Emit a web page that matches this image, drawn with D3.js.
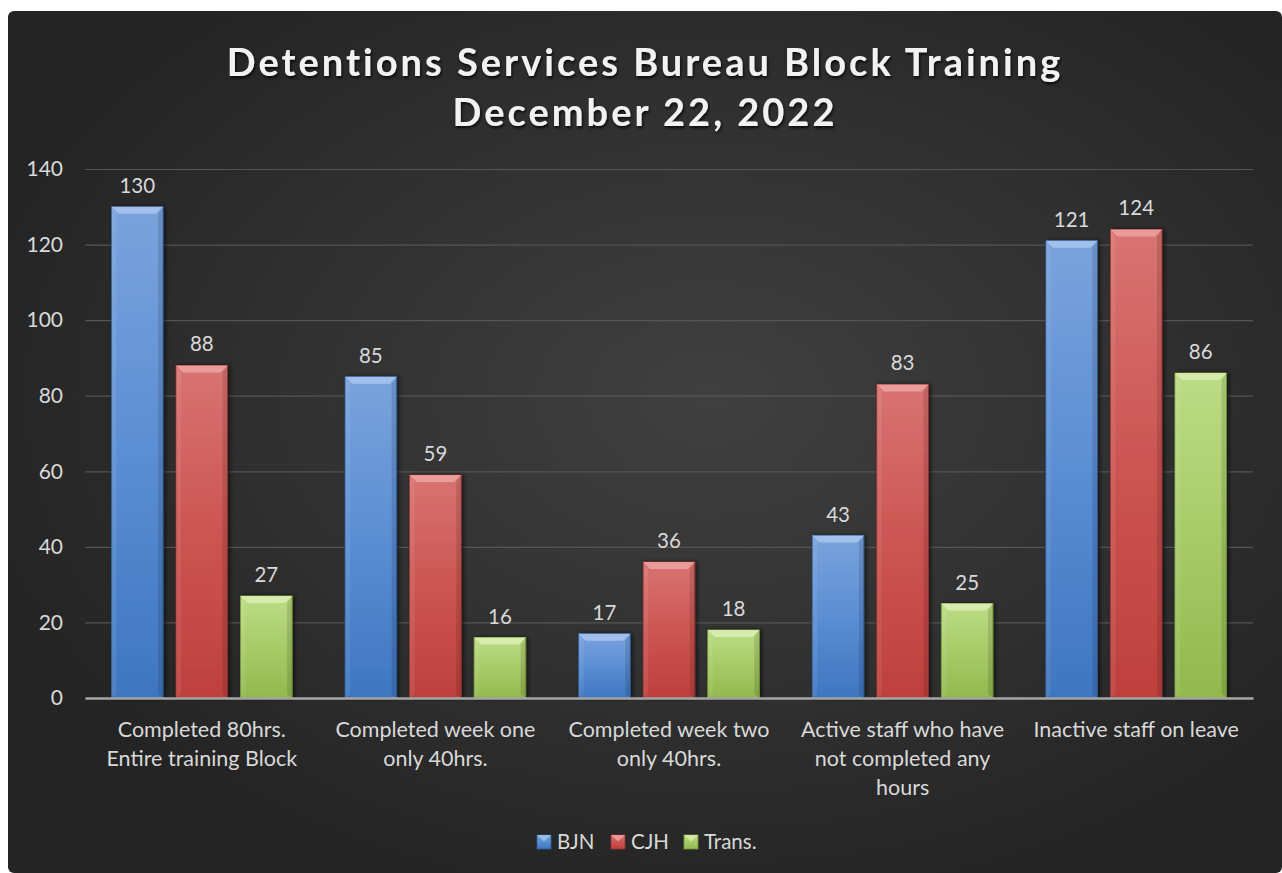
<!DOCTYPE html>
<html>
<head>
<meta charset="utf-8">
<script src="https://cdn.jsdelivr.net/npm/d3@7/dist/d3.min.js"></script>
<style>
  body { margin: 0; background: #fff; }
  svg text { font-family: Lato, "Open Sans", sans-serif; }
</style>
</head>
<body>
<div id="chart"></div>
<script>
// chart data
const categories = [
  "Completed 80hrs. Entire training Block",
  "Completed week one only 40hrs.",
  "Completed week two only 40hrs.",
  "Active staff who have not completed any hours",
  "Inactive staff on leave"
];
const categoryLines = [
  ["Completed 80hrs.", "Entire training Block"],
  ["Completed week one", "only 40hrs."],
  ["Completed week two", "only 40hrs."],
  ["Active staff who have", "not completed any", "hours"],
  ["Inactive staff on leave"]
];
const seriesNames = ["BJN", "CJH", "Trans."];
const bjn = [130, 85, 17, 43, 121];
const cjh = [88, 59, 36, 83, 124];
const trans = [27, 16, 18, 25, 86];
const yTicks = [0, 20, 40, 60, 80, 100, 120, 140];
const titleLines = ["Detentions Services Bureau Block Training", "December 22, 2022"];

const seriesValues = [bjn, cjh, trans];
const colours = [
  { top: "#7aa3dc", mid: "#5b8ed3", bot: "#3e76c0", bevel: "#a9c6ee", edge: "#2f5f9f" },
  { top: "#d87472", mid: "#cc5552", bot: "#be403d", bevel: "#eda3a1", edge: "#983230" },
  { top: "#bcdc86", mid: "#a8cb68", bot: "#93b84e", bevel: "#d9efb4", edge: "#759a36" }
];

const width = 1282, height = 873;
const margin = { left: 85, right: 29, top: 169, bottom: 175 };

const svg = d3.select("#chart")
  .append("svg")
    .attr("width", width)
    .attr("height", height);

const defs = svg.append("defs");
const bg = defs.append("radialGradient")
    .attr("id", "bg")
    .attr("cx", "55%").attr("cy", "45%").attr("r", "60%");
bg.append("stop").attr("offset", "0%").attr("stop-color", "#404040");
bg.append("stop").attr("offset", "100%").attr("stop-color", "#242424");

colours.forEach(function (c, i) {
  const g = defs.append("linearGradient")
      .attr("id", "bar" + i)
      .attr("x1", 0).attr("y1", 0).attr("x2", 0).attr("y2", 1);
  g.append("stop").attr("offset", "0%").attr("stop-color", c.top);
  g.append("stop").attr("offset", "50%").attr("stop-color", c.mid);
  g.append("stop").attr("offset", "100%").attr("stop-color", c.bot);
});

const shadow = defs.append("filter").attr("id", "tshadow")
    .attr("x", "-5%").attr("y", "-20%").attr("width", "110%").attr("height", "150%");
shadow.append("feDropShadow")
    .attr("dx", 1).attr("dy", 2).attr("stdDeviation", 1.5)
    .attr("flood-color", "#000").attr("flood-opacity", 0.8);

const barShadow = defs.append("filter").attr("id", "bshadow")
    .attr("x", "-20%").attr("y", "-5%").attr("width", "150%").attr("height", "110%");
barShadow.append("feDropShadow")
    .attr("dx", 2).attr("dy", 0).attr("stdDeviation", 2)
    .attr("flood-color", "#000").attr("flood-opacity", 0.6);

// background panel
svg.append("rect")
    .attr("x", 8).attr("y", 11)
    .attr("width", width - 8).attr("height", height - 11)
    .attr("rx", 6)
    .attr("fill", "url(#bg)");

// title
svg.append("text")
    .attr("x", 645)
    .attr("text-anchor", "middle")
    .attr("fill", "#f2f2f2")
    .attr("font-size", 38)
    .attr("font-weight", "bold")
    .attr("letter-spacing", 3)
    .attr("filter", "url(#tshadow)")
  .selectAll("tspan")
  .data(titleLines)
  .join("tspan")
    .attr("x", 645)
    .attr("y", function (d, i) { return 76 + i * 50; })
    .text(function (d) { return d; });

const y = d3.scaleLinear()
    .domain([0, 140])
    .range([height - margin.bottom, margin.top]);

const x0 = d3.scaleBand()
    .domain(categories)
    .range([margin.left, width - margin.right])
    .padding(0);

const x1 = d3.scaleBand()
    .domain(seriesNames)
    .range([0, x0.bandwidth()])
    .paddingInner(0.2)
    .paddingOuter(0.41);

// y axis + grid
const yAxis = svg.append("g")
    .attr("transform", "translate(" + margin.left + ",0)")
    .call(d3.axisLeft(y)
      .tickValues(yTicks)
      .tickSize(-(width - margin.left - margin.right))
      .tickPadding(22));
yAxis.select(".domain").remove();
yAxis.selectAll(".tick line")
    .attr("stroke", "#555")
    .attr("stroke-width", 1.2);
yAxis.selectAll(".tick text")
    .attr("fill", "#d9d9d9")
    .attr("font-size", 21);

// bars
const groups = svg.append("g")
  .selectAll("g")
  .data(categories)
  .join("g")
    .attr("transform", function (d) { return "translate(" + x0(d) + ",0)"; });

const bars = groups.selectAll("g.bar")
  .data(function (d, ci) {
    return seriesNames.map(function (s, si) {
      return { series: s, si: si, value: seriesValues[si][ci] };
    });
  })
  .join("g")
    .attr("class", "bar");

bars.append("rect")
    .attr("x", function (d) { return x1(d.series); })
    .attr("y", function (d) { return y(d.value); })
    .attr("width", x1.bandwidth())
    .attr("height", function (d) { return y(0) - y(d.value); })
    .attr("fill", function (d) { return "url(#bar" + d.si + ")"; })
    .attr("stroke", function (d) { return colours[d.si].edge; })
    .attr("stroke-width", 0.8)
    .attr("filter", "url(#bshadow)");

// top bevel
bars.append("path")
    .attr("d", function (d) {
      const xl = x1(d.series), xr = xl + x1.bandwidth(), yt = y(d.value), b = 7;
      return "M" + xl + "," + yt + "L" + xr + "," + yt +
             "L" + (xr - b) + "," + (yt + b) + "L" + (xl + b) + "," + (yt + b) + "Z";
    })
    .attr("fill", function (d) { return colours[d.si].bevel; })
    .attr("opacity", 0.85);

// side bevels
bars.append("path")
    .attr("d", function (d) {
      const xl = x1(d.series), yt = y(d.value), yb = y(0), b = 5;
      return "M" + xl + "," + yt + "L" + (xl + b) + "," + (yt + 7) +
             "L" + (xl + b) + "," + (yb - 4) + "L" + xl + "," + yb + "Z";
    })
    .attr("fill", "#fff")
    .attr("opacity", 0.08);
bars.append("path")
    .attr("d", function (d) {
      const xr = x1(d.series) + x1.bandwidth(), yt = y(d.value), yb = y(0), b = 5;
      return "M" + xr + "," + yt + "L" + (xr - b) + "," + (yt + 7) +
             "L" + (xr - b) + "," + (yb - 4) + "L" + xr + "," + yb + "Z";
    })
    .attr("fill", "#000")
    .attr("opacity", 0.12);

// data labels
bars.append("text")
    .attr("x", function (d) { return x1(d.series) + x1.bandwidth() / 2; })
    .attr("y", function (d) { return y(d.value) - 14; })
    .attr("text-anchor", "middle")
    .attr("fill", "#d9d9d9")
    .attr("font-size", 20.5)
    .text(function (d) { return d.value; });

// x axis
const xAxis = svg.append("g")
    .attr("transform", "translate(0," + y(0) + ")")
    .call(d3.axisBottom(x0).tickSize(0).tickPadding(0));
xAxis.select(".domain")
    .attr("stroke", "#a6a6a6")
    .attr("stroke-width", 2.5);
xAxis.selectAll(".tick text").each(function (d, i) {
  const t = d3.select(this)
      .attr("fill", "#d9d9d9")
      .attr("font-size", 21.5)
      .attr("y", 0)
      .attr("dy", null)
      .text(null);
  t.selectAll("tspan")
    .data(categoryLines[i])
    .join("tspan")
      .attr("x", 0)
      .attr("y", function (l, j) { return 39 + j * 29; })
      .text(function (l) { return l; });
});

// legend
const legendItems = [
  { name: "BJN", x: 537 },
  { name: "CJH", x: 611 },
  { name: "Trans." , x: 684 }
];
const legend = svg.append("g")
  .selectAll("g")
  .data(legendItems)
  .join("g")
    .attr("transform", function (d) { return "translate(" + d.x + ",835)"; });
legend.append("rect")
    .attr("width", 14).attr("height", 14)
    .attr("fill", function (d, i) { return "url(#bar" + i + ")"; })
    .attr("stroke", function (d, i) { return colours[i].edge; })
    .attr("stroke-width", 0.8);
legend.append("path")
    .attr("d", "M0,0L14,0L7,6.5Z")
    .attr("fill", function (d, i) { return colours[i].bevel; })
    .attr("opacity", 0.8);
legend.append("text")
    .attr("x", 20)
    .attr("y", 14)
    .attr("fill", "#d9d9d9")
    .attr("font-size", 20.5)
    .text(function (d) { return d.name; });
</script>
</body>
</html>
